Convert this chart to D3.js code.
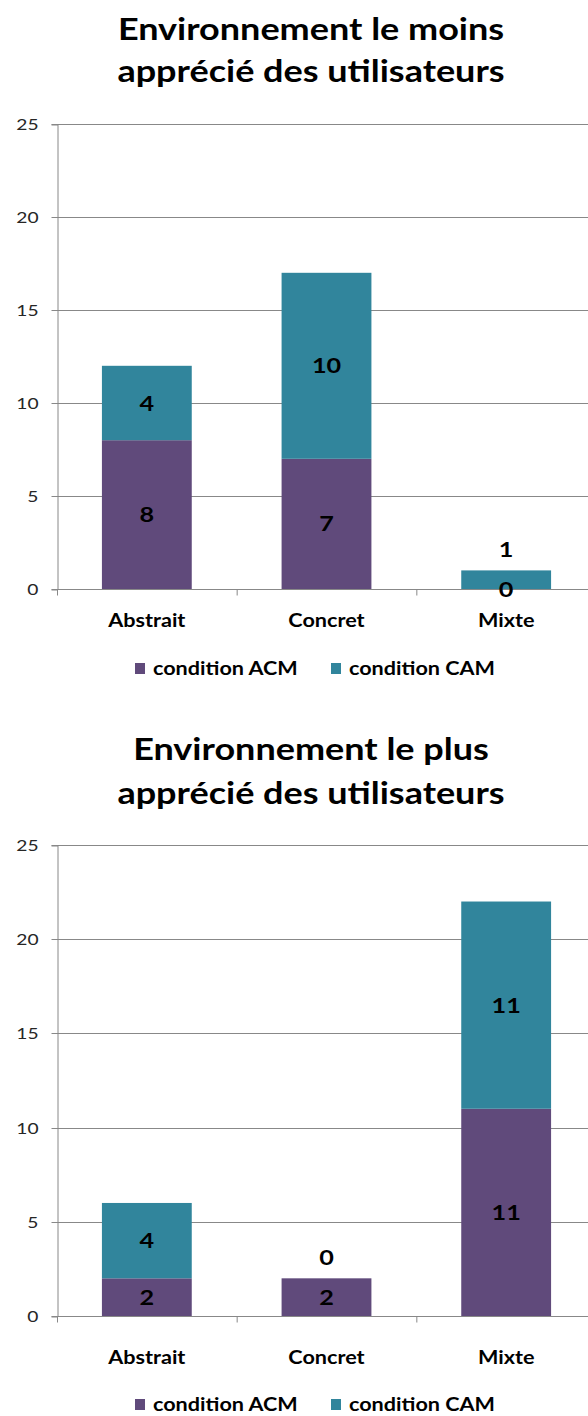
<!DOCTYPE html>
<html>
<head>
<meta charset="utf-8">
<script src="https://cdn.jsdelivr.net/npm/d3@7"></script>
<style>
  html, body { margin: 0; padding: 0; background: #fff; }
  svg { display: block; font-family: Lato, "Open Sans", sans-serif; }
</style>
</head>
<body>
<svg id="chart" width="588" height="1416"></svg>
<script>
// Categories and series
const categories = ["Abstrait", "Concret", "Mixte"];
const seriesNames = ["condition ACM", "condition CAM"];
const seriesColors = ["#604A7B", "#31859C"];
const yTicks = [0, 5, 10, 15, 20, 25];

// Least-liked environment
const leastTitle = ["Environnement le moins", "apprécié des utilisateurs"];
const leastACM = [8, 7, 0];
const leastCAM = [4, 10, 1];

// Most-liked environment
const mostTitle = ["Environnement le plus", "apprécié des utilisateurs"];
const mostACM = [2, 2, 11];
const mostCAM = [4, 0, 11];

// Text is drawn slightly widened to get the broad look of the labels
const STRETCH = 1.2;
const GRID = "#888888";

const svg = d3.select("#chart");

// Widened text anchored at (x, y)
function label(parent, x, y, txt, size, weight, anchor) {
  return parent.append("text")
    .attr("transform", `translate(${x},${y}) scale(${STRETCH},1)`)
    .attr("text-anchor", anchor || "middle")
    .attr("font-size", size)
    .attr("font-weight", weight)
    .attr("fill", "#000")
    .text(txt);
}

function drawChart(opts) {
  const g = svg.append("g");
  const { titleLines, acm, cam, titleYs, top, bottom, catY, legendY } = opts;
  const left = 57, right = 596;

  // title
  titleLines.forEach((line, i) => label(g, 311, titleYs[i], line, 30, 700));

  const x = d3.scaleBand().domain(categories).range([left, right]).paddingInner(0.5).paddingOuter(0.25);
  const xb = d3.scaleBand().domain(categories).range([left, right]);
  const y = d3.scaleLinear().domain([0, 25]).range([bottom, top]);

  // gridlines
  g.append("g").selectAll("line").data(yTicks.filter(t => t > 0)).join("line")
    .attr("x1", left).attr("x2", 588)
    .attr("y1", d => Math.round(y(d)) + 0.5).attr("y2", d => Math.round(y(d)) + 0.5)
    .attr("stroke", GRID).attr("stroke-width", 1);

  // y axis
  const tickLen = 6, pad = 13;
  const yAxis = d3.axisLeft(y).tickValues(yTicks).tickSize(tickLen).tickPadding(pad);
  const ya = g.append("g").attr("transform", `translate(${left + 0.5},0.5)`).call(yAxis);
  ya.select(".domain").attr("stroke", GRID);
  ya.selectAll(".tick line").attr("stroke", GRID);
  ya.selectAll(".tick").attr("transform", d => `translate(0,${Math.round(y(d))})`);
  ya.selectAll(".tick text")
    .attr("font-size", 16).attr("fill", "#262626").attr("font-family", "Lato, sans-serif")
    .attr("x", -(tickLen + pad) / STRETCH)
    .attr("transform", `scale(${STRETCH},1)`);

  // stacked data
  const rows = categories.map((c, i) => ({ cat: c, acm: acm[i], cam: cam[i] }));
  const stack = d3.stack().keys(["acm", "cam"])(rows);

  stack.forEach((layer, li) => {
    g.append("g").selectAll("rect").data(layer).join("rect")
      .attr("x", d => x(d.data.cat))
      .attr("width", x.bandwidth())
      .attr("y", d => y(d[1]))
      .attr("height", d => y(d[0]) - y(d[1]))
      .attr("fill", seriesColors[li]);
  });

  // x axis baseline and category ticks
  const zeroY = Math.round(y(0)) + 0.5;
  g.append("line").attr("x1", left).attr("x2", 588).attr("y1", zeroY).attr("y2", zeroY)
    .attr("stroke", GRID);
  g.append("g").selectAll("line").data(categories).join("line")
    .attr("x1", d => xb(d) + 0.5).attr("x2", d => xb(d) + 0.5)
    .attr("y1", zeroY).attr("y2", zeroY + 6)
    .attr("stroke", GRID);

  // category labels
  categories.forEach(c => label(g, x(c) + x.bandwidth() / 2, catY, c, 18, 700));

  // data labels (centered in segment; pushed above when segments are too thin)
  rows.forEach(r => {
    const cx = x(r.cat) + x.bandwidth() / 2;
    const acmY = (y(0) + y(r.acm)) / 2;
    let camY = (y(r.acm) + y(r.acm + r.cam)) / 2;
    if (camY > acmY - 30) camY = acmY - 40;
    [[r.acm, acmY], [r.cam, camY]].forEach(([v, ly]) => {
      label(g, cx, ly + 7.5, v, 21, 700);
    });
  });

  // legend
  const legendItems = [{ x: 135, name: seriesNames[0], color: seriesColors[0] },
                       { x: 331, name: seriesNames[1], color: seriesColors[1] }];
  legendItems.forEach(d => {
    g.append("rect").attr("x", d.x).attr("y", legendY - 5).attr("width", 10).attr("height", 11)
      .attr("fill", d.color);
    label(g, d.x + 18, legendY + 6.5, d.name, 18, 700, "start");
  });
}

drawChart({ titleLines: leastTitle, acm: leastACM, cam: leastCAM,
            titleYs: [40, 82], top: 124, bottom: 589, catY: 627, legendY: 668 });
drawChart({ titleLines: mostTitle, acm: mostACM, cam: mostCAM,
            titleYs: [760, 804], top: 845, bottom: 1316, catY: 1364, legendY: 1404 });
</script>
</body>
</html>
